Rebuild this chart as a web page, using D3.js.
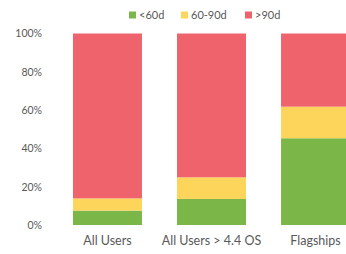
<!DOCTYPE html>
<html lang="en">
<head>
<meta charset="UTF-8">
<title>Stacked bars</title>
<script src="https://d3js.org/d3.v7.min.js"></script>
<style>
    body { margin: 0; background: #fff; }
    svg { display: block; }
    text { font-family: Lato, "Open Sans", sans-serif; fill: #595959; }
</style>
</head>
<body>
<script>
    // data
    const categories = ["All Users", "All Users > 4.4 OS", "Flagships"];
    const seriesNames = ["<60d", "60-90d", ">90d"];
    const under60 = [7.5, 13.6, 45.3];
    const from60to90 = [6.4, 11.3, 16.5];
    const over90 = [86.1, 75.1, 38.2];
    const tickValues = [0, 20, 40, 60, 80, 100];
    const colors = ["#7ab648", "#fcd55a", "#ef636c"];

    const width = 346, height = 254;
    const svg = d3.select("body").append("svg")
        .attr("width", width)
        .attr("height", height);

    const y = d3.scaleLinear().domain([0, 100]).range([225, 33.5]);
    const x = d3.scaleBand()
        .domain(categories)
        .range([55.5, 367.5])
        .paddingInner(0.337)
        .paddingOuter(0.168);

    // stack the three series
    const rows = categories.map((c, i) => ({
        cat: c, "<60d": under60[i], "60-90d": from60to90[i], ">90d": over90[i]
    }));
    const stacked = d3.stack().keys(seriesNames)(rows);

    svg.append("g")
        .selectAll("g")
        .data(stacked)
        .join("g")
        .attr("fill", (d, i) => colors[i])
        .selectAll("rect")
        .data(d => d)
        .join("rect")
        .attr("x", d => x(d.data.cat))
        .attr("width", x.bandwidth())
        .attr("y", d => y(d[1]))
        .attr("height", d => y(d[0]) - y(d[1]));

    // y axis, no line or ticks
    const yAxis = svg.append("g")
        .attr("transform", "translate(42,0)")
        .call(d3.axisLeft(y).tickValues(tickValues).tickFormat(d => d + "%").tickSize(0).tickPadding(0));
    yAxis.select(".domain").remove();
    yAxis.selectAll("text").style("font-size", "10.5px").style("fill", "#595959");

    // x axis labels
    const xAxis = svg.append("g")
        .attr("transform", "translate(0,234)")
        .call(d3.axisBottom(x).tickSize(0).tickPadding(2));
    xAxis.select(".domain").remove();
    xAxis.selectAll("text").style("font-size", "12.5px").style("fill", "#595959");

    // legend
    const legendX = [129, 181, 245];
    const legend = svg.append("g").selectAll("g")
        .data(seriesNames)
        .join("g")
        .attr("transform", (d, i) => `translate(${legendX[i]},15)`);
    legend.append("rect")
        .attr("x", 0).attr("y", -3.5)
        .attr("width", 7).attr("height", 7)
        .attr("fill", (d, i) => colors[i]);
    legend.append("text")
        .attr("x", 10).attr("y", 0)
        .attr("dy", "0.35em")
        .style("font-size", "11px")
        .text(d => d);
</script>
</body>
</html>
